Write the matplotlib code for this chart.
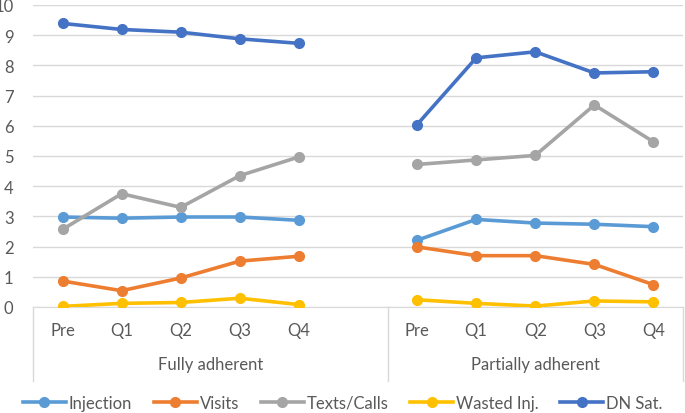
import matplotlib
matplotlib.use("Agg")
import matplotlib.pyplot as plt
from matplotlib.lines import Line2D

plt.rcParams['font.family'] = ['Lato', 'DejaVu Sans']

periods = ["Pre", "Q1", "Q2", "Q3", "Q4"]
groups = ["Fully adherent", "Partially adherent"]
series_names = ["Injection", "Visits", "Texts/Calls", "Wasted Inj.", "DN Sat."]
colors = ["#5B9BD5", "#ED7D31", "#A5A5A5", "#FFC000", "#4472C4"]

injection_full = [2.98, 2.94, 2.98, 2.98, 2.87]
injection_part = [2.21, 2.90, 2.78, 2.74, 2.66]
visits_full = [0.86, 0.54, 0.96, 1.52, 1.68]
visits_part = [1.99, 1.70, 1.70, 1.41, 0.74]
texts_full = [2.57, 3.75, 3.30, 4.35, 4.97]
texts_part = [4.72, 4.87, 5.02, 6.69, 5.47]
wasted_full = [0.02, 0.12, 0.15, 0.29, 0.08]
wasted_part = [0.24, 0.12, 0.03, 0.20, 0.17]
dnsat_full = [9.39, 9.19, 9.10, 8.88, 8.73]
dnsat_part = [6.04, 8.25, 8.45, 7.75, 7.79]

full_vals = [injection_full, visits_full, texts_full, wasted_full, dnsat_full]
part_vals = [injection_part, visits_part, texts_part, wasted_part, dnsat_part]

FS = 12
fig = plt.figure(figsize=(6.85, 4.14), dpi=100)
ax = fig.add_axes([33/685, 1-308/414, 650/685, 302/414])

x_full = list(range(5))
x_part = [i + 6 for i in range(5)]

for name, col, fv, pv in zip(series_names, colors, full_vals, part_vals):
    ax.plot(x_full, fv, color=col, lw=2.6, marker='o', ms=7, zorder=3, solid_capstyle='round')
    ax.plot(x_part, pv, color=col, lw=2.6, marker='o', ms=7, zorder=3, solid_capstyle='round')

ax.set_xlim(-0.5, 10.5)
ax.set_ylim(0, 10)
ax.set_yticks(range(0, 11))
ax.grid(axis='y', color='#D9D9D9', lw=1)
ax.set_axisbelow(True)
for s in ['top', 'right', 'left']:
    ax.spines[s].set_visible(False)
ax.spines['bottom'].set_color('#D9D9D9')
ax.tick_params(axis='y', length=0, labelsize=FS, labelcolor='#595959', pad=14)
ax.tick_params(axis='x', length=0, labelsize=FS, labelcolor='#595959', pad=11)
ax.set_xticks(x_full + x_part)
ax.set_xticklabels(periods + periods)
for lbl in ax.get_yticklabels():
    lbl.set_horizontalalignment('right')

trans = ax.get_xaxis_transform()
for xv in [-0.5, 5.5, 10.5]:
    ax.add_line(Line2D([xv, xv], [0, -0.245], transform=trans, color='#D9D9D9', lw=1, clip_on=False))
ax.text(2.5, -0.19, groups[0], transform=trans, ha='center', va='center', fontsize=FS, color='#595959')
ax.text(8.0, -0.19, groups[1], transform=trans, ha='center', va='center', fontsize=FS, color='#595959')

handles = [Line2D([], [], color=c, lw=2.6, marker='o', ms=7) for c in colors]
fig.legend(handles, series_names, loc='center', bbox_to_anchor=(0.5, 10/414), ncol=5,
           frameon=False, fontsize=FS, labelcolor='#595959', handlelength=2.6,
           handletextpad=0.15, columnspacing=1.3, borderpad=0)

fig.savefig("out.png", dpi=100)
